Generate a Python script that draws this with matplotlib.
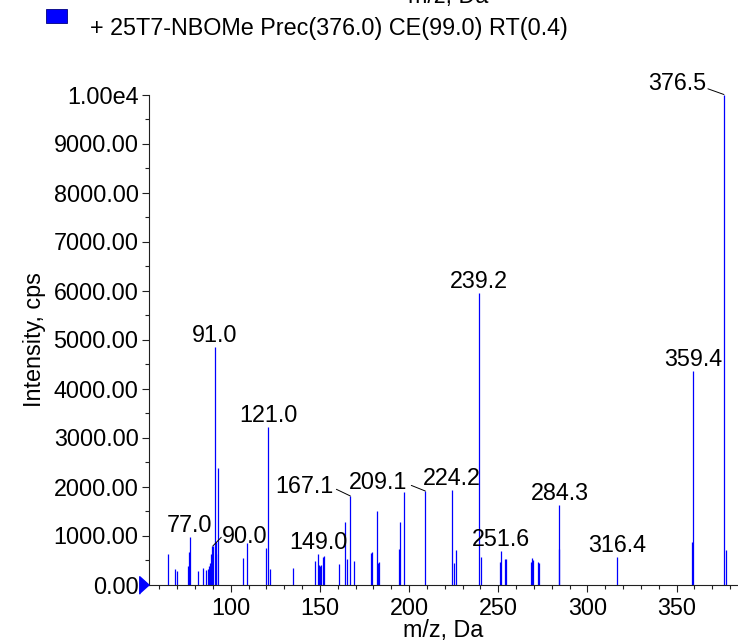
import matplotlib
matplotlib.use('Agg')
import matplotlib.pyplot as plt
from matplotlib.ticker import MultipleLocator, FixedLocator, FuncFormatter
from matplotlib.patches import Rectangle

plt.rcParams['font.family'] = ['Liberation Sans', 'DejaVu Sans']

# ---------------- data ----------------
mz = [64.8, 68.6, 69.7, 76.1, 76.6, 77.0, 81.7, 84.5, 86.4, 87.0, 87.7, 88.2,
      88.8, 89.5, 90.0, 91.0, 91.5, 92.0, 93.0, 106.9, 109.0, 120.0, 121.0,
      121.9, 135.1, 147.1, 149.0, 149.5, 150.2, 150.8, 151.5, 152.1, 160.9,
      164.1, 165.0, 167.1, 169.1, 178.9, 179.4, 182.0, 182.8, 183.3, 194.2,
      194.9, 197.2, 209.1, 224.2, 225.2, 226.3, 239.2, 240.1, 251.2, 251.6,
      254.0, 254.5, 268.3, 268.9, 269.4, 272.3, 272.7, 284.1, 284.3, 316.4,
      358.8, 359.4, 376.5, 377.5]
intensity = [620, 320, 280, 378, 657, 960, 269, 343, 296, 322, 378, 433,
             622, 786, 786, 4841, 860, 616, 2378, 541, 841, 739, 3220,
             310, 331, 486, 622, 404, 380, 390, 555, 582, 418,
             1276, 514, 1806, 480, 637, 663, 1500, 433, 459, 724,
             1269, 1882, 1908, 1929, 433, 704, 5943, 567, 453, 684,
             520, 516, 465, 535, 500, 465, 440, 731, 1622, 567,
             873, 4357, 10000, 704]

label_mz = [77.0, 90.0, 91.0, 121.0, 149.0, 167.1, 209.1, 224.2, 239.2,
            251.6, 284.3, 316.4, 359.4, 376.5]

legend_text = "+ 25T7-NBOMe Prec(376.0) CE(99.0) RT(0.4)"
x_label = "m/z, Da"
y_label = "Intensity, cps"
x_ticks = [100, 150, 200, 250, 300, 350]
y_ticks = list(range(0, 10001, 1000))

# ---------------- layout / style ----------------
W, H = 738, 641
FS = 16.8
BLUE = '#0000FF'
# leader-line labels: (line end dx, dy), (text dx, dy), ha   [pixels]
leaders = {
    376.5: ((-16, 5.7), (-17.3, 5.0), 'right'),
    167.1: ((-14, 6.7), (-16.7, 3.3), 'right'),
    209.1: ((-14, 5.6), (-17.7, 1.6), 'right'),
    90.0:  ((8.4, 8.7), (9.4, 2.7), 'left'),
}

fig = plt.figure(figsize=(W / 100, H / 100), dpi=100)
ax = fig.add_axes([149 / W, 56.5 / H, 589 / W, 490 / H])

ax.vlines(mz, 0, intensity, colors=BLUE, linewidth=0.9)

ax.set_xlim(54.2, 384.4)
ax.set_ylim(0, 10000)

for s in ('top', 'right'):
    ax.spines[s].set_visible(False)
for s in ('left', 'bottom'):
    ax.spines[s].set_linewidth(0.8)
    ax.spines[s].set_color('#202020')

ax.xaxis.set_major_locator(FixedLocator(x_ticks))
ax.xaxis.set_minor_locator(MultipleLocator(10))
ax.yaxis.set_major_locator(FixedLocator(y_ticks))
ax.yaxis.set_minor_locator(MultipleLocator(500))
ax.yaxis.set_major_formatter(FuncFormatter(
    lambda v, p: '1.00e4' if v >= 10000 else f'{v:.2f}'))

ax.tick_params(axis='both', which='major', direction='out', length=5,
               width=0.8, color='#202020', labelsize=FS)
ax.tick_params(axis='both', which='minor', direction='out', length=2.6,
               width=0.8, color='#202020')
ax.tick_params(axis='x', which='major', pad=4.0)
ax.tick_params(axis='y', which='major', pad=2.5)

ax.set_xlabel(x_label, fontsize=FS)
ax.xaxis.set_label_coords(0.5, -0.07)
ax.xaxis.label.set_va('top')
ax.set_ylabel(y_label, fontsize=FS)
ax.yaxis.set_label_coords(-0.175, 0.5)

# peak labels
height = dict(zip(mz, intensity))
for m in label_mz:
    h = height[m]
    txt = f'{m:.1f}'
    if m in leaders:
        (ldx, ldy), (tdx, tdy), ha = leaders[m]
        ax.annotate('', xy=(m, h), xytext=(ldx, ldy), textcoords='offset pixels',
                    arrowprops=dict(arrowstyle='-', color='black', lw=0.7,
                                    shrinkA=0, shrinkB=0),
                    annotation_clip=False)
        ax.annotate(txt, xy=(m, h), xytext=(tdx, tdy), textcoords='offset pixels',
                    ha=ha, va='baseline', fontsize=FS, annotation_clip=False)
    else:
        ax.annotate(txt, xy=(m, h), xytext=(0, 5), textcoords='offset pixels',
                    ha='center', va='baseline', fontsize=FS, annotation_clip=False)

# blue baseline marker at the y axis
ax.plot([ax.get_xlim()[0]], [0], linestyle='none',
        marker=[(0, 0), (-1, 0.9), (-1, -0.9)], markersize=14,
        color=BLUE, clip_on=False, zorder=5)

# legend (top)
fig.patches.append(Rectangle((46 / W, 1 - 23 / H), 21 / W, 14 / H,
                             transform=fig.transFigure, facecolor=BLUE,
                             edgecolor='#000080', linewidth=0.6))
fig.text(90 / W, 1 - 28 / H, legend_text, fontsize=FS, ha='left', va='center')

# cut-off axis title of the panel above
fig.text(448 / W, 1 - 3 / H, x_label, fontsize=FS, ha='center', va='baseline')

fig.savefig('out.png', dpi=100)
